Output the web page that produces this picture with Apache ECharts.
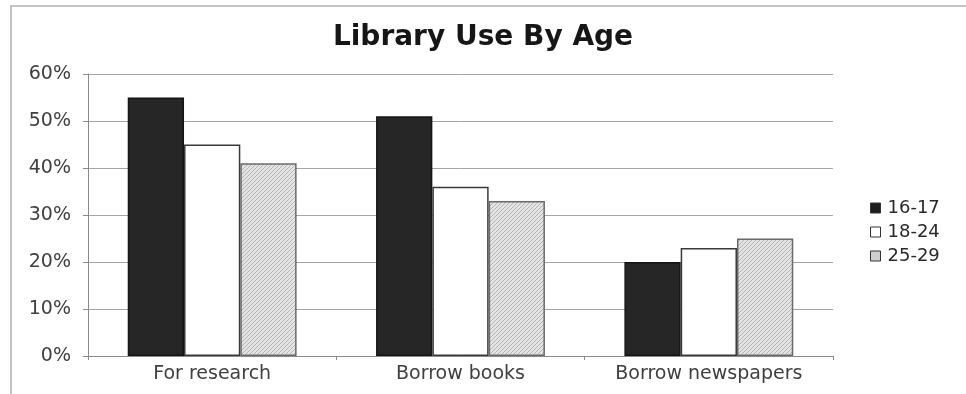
<!DOCTYPE html>
<html>
<head>
<meta charset="utf-8">
<script src="https://cdn.jsdelivr.net/npm/echarts@6/dist/echarts.min.js"></script>
<style>
  html, body { margin: 0; padding: 0; background: #fff; }
  #chart { width: 966px; height: 394px; }
</style>
</head>
<body>
<div id="chart"></div>
<script>
// Library usage data, share of each age group (percent)
const categories = ['For research', 'Borrow books', 'Borrow newspapers'];
const ageGroups = ['16-17', '18-24', '25-29'];
const age16to17 = [55, 51, 20];
const age18to24 = [45, 36, 23];
const age25to29 = [41, 33, 25];
const yTicks = [0, 10, 20, 30, 40, 50, 60];

// Fine diagonal hatch fill for the oldest group
function hatchPattern() {
  const c = document.createElement('canvas');
  c.width = 4; c.height = 4;
  const g = c.getContext('2d');
  g.fillStyle = '#e4e4e4';
  g.fillRect(0, 0, 4, 4);
  g.strokeStyle = '#b4b4b4';
  g.lineWidth = 1;
  g.beginPath();
  g.moveTo(0, 4); g.lineTo(4, 0);
  g.moveTo(-2, 2); g.lineTo(2, -2);
  g.moveTo(2, 6); g.lineTo(6, 2);
  g.stroke();
  return { image: c, repeat: 'repeat' };
}

const chart = echarts.init(document.getElementById('chart'), null, { renderer: 'canvas' });

const fills = ['#262626', '#ffffff', hatchPattern()];
const borders = ['#141414', '#3a3a3a', '#6a6a6a'];
const values = [age16to17, age18to24, age25to29];
const legendIcons = ['#1e1e1e', '#ffffff', '#cfcfcf'];
const textFont = 'DejaVu Sans';

chart.setOption({
  animation: false,
  backgroundColor: '#ffffff',
  graphic: [{
    type: 'rect',
    shape: { x: 11, y: 6, width: 970, height: 400 },
    style: { fill: 'none', stroke: '#c4c4c4', lineWidth: 2 },
    silent: true
  }],
  title: {
    text: 'Library Use By Age',
    left: 'center',
    top: 19,
    textStyle: { fontFamily: textFont, fontWeight: 'bold', fontSize: 28, color: '#161616' }
  },
  legend: {
    orient: 'vertical',
    left: 865,
    top: 194,
    itemWidth: 10,
    itemHeight: 10,
    itemGap: 6,
    textStyle: { fontFamily: textFont, fontSize: 18, color: '#2a2a2a', padding: [0, 0, 0, 2] },
    data: ageGroups.map((name, i) => ({
      name,
      icon: 'rect',
      itemStyle: { color: legendIcons[i], borderColor: '#333', borderWidth: 1 }
    }))
  },
  grid: { left: 88, right: 133, top: 74, bottom: 38 },
  xAxis: {
    type: 'category',
    data: categories,
    axisLine: { lineStyle: { color: '#8a8a8a', width: 1 } },
    axisTick: { show: true, length: 4, lineStyle: { color: '#8a8a8a' } },
    axisLabel: { fontFamily: textFont, fontSize: 19, color: '#404040', margin: 9 }
  },
  yAxis: {
    type: 'value',
    min: 0,
    max: 60,
    interval: 10,
    axisLine: { show: true, lineStyle: { color: '#8a8a8a', width: 1 } },
    axisTick: { show: true, length: 5, lineStyle: { color: '#8a8a8a' } },
    splitLine: { lineStyle: { color: '#a4a4a4', width: 1 } },
    axisLabel: {
      fontFamily: textFont, fontSize: 19, color: '#404040', margin: 17,
      formatter: v => (yTicks.includes(v) ? v + '%' : '')
    }
  },
  series: ageGroups.map((name, i) => ({
    name,
    type: 'bar',
    data: values[i],
    barGap: '0%',
    barCategoryGap: '32%',
    itemStyle: { color: fills[i], borderColor: borders[i], borderWidth: 1.5 }
  }))
});
</script>
</body>
</html>
